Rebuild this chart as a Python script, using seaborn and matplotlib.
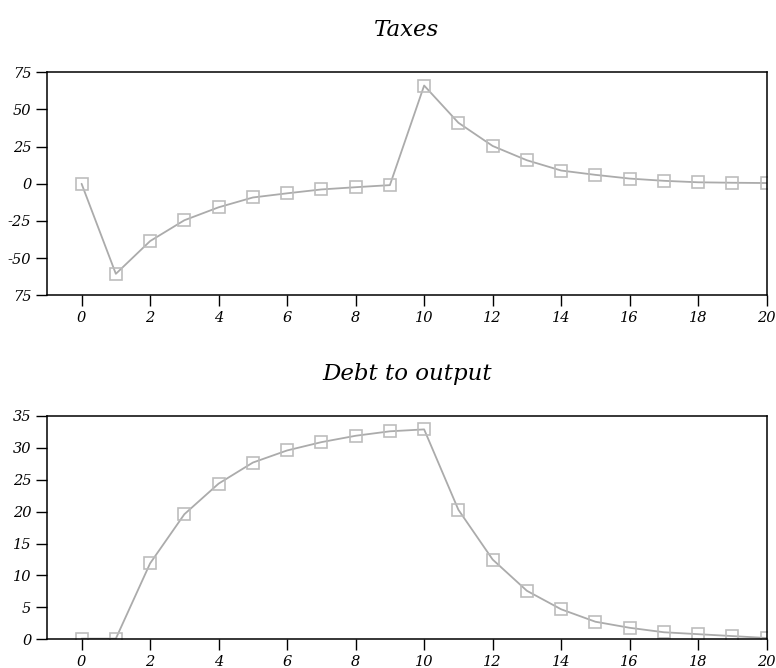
import numpy as np
import pandas as pd
import seaborn as sns
import matplotlib.pyplot as plt

# Values
periods = list(range(21))
taxes = [0.0, -60.5, -38.5, -24.5, -15.8, -9.2, -6.4, -3.8, -2.3, -0.9,
         66.0, 41.0, 25.4, 15.8, 8.9, 6.0, 3.5, 2.0, 1.0, 0.7, 0.5]
debt_to_output = [0.1, 0.1, 11.9, 19.6, 24.4, 27.7, 29.6, 30.9, 31.9, 32.6,
                  32.9, 20.3, 12.5, 7.6, 4.7, 2.75, 1.8, 1.1, 0.8, 0.5, 0.2]
tax_ticks = [75, 50, 25, 0, -25, -50, -75]
tax_tick_labels = ['75', '50', '25', '0', '-25', '-50', '75']
debt_ticks = [0, 5, 10, 15, 20, 25, 30, 35]
x_ticks = list(range(0, 21, 2))

sns.set_style('ticks')
plt.rcParams['font.family'] = ['DejaVu Serif']
plt.rcParams['font.style'] = 'italic'
plt.rcParams['text.color'] = 'black'
plt.rcParams['xtick.color'] = 'black'
plt.rcParams['ytick.color'] = 'black'

df = pd.DataFrame({'period': periods, 'taxes': taxes, 'debt': debt_to_output})

fig, axes = plt.subplots(2, 1, figsize=(7.76, 6.68), dpi=100)
fig.subplots_adjust(left=0.061, right=0.988, top=0.892, bottom=0.043, hspace=0.54)

line_kw = dict(color='#ababab', linewidth=1.3, marker='s', markersize=8,
               markerfacecolor='none', markeredgecolor='#bdbdbd', markeredgewidth=1.2)

specs = [
    ('taxes', 'Taxes', (-75, 75), tax_ticks, tax_tick_labels),
    ('debt', 'Debt to output', (0, 35), debt_ticks, [str(t) for t in debt_ticks]),
]

for ax, (col, title, ylim, yt, ytl) in zip(axes, specs):
    sns.lineplot(data=df, x='period', y=col, ax=ax, **line_kw)
    ax.set_xlim(-1, 20)
    ax.set_ylim(*ylim)
    ax.set_yticks(yt)
    ax.set_yticklabels(ytl)
    ax.set_xticks(x_ticks)
    ax.set_xticklabels([str(t) for t in x_ticks])
    for lab in ax.get_xticklabels() + ax.get_yticklabels():
        lab.set_fontstyle('italic')
        lab.set_fontsize(10.5)
    ax.set_xlabel('')
    ax.set_ylabel('')
    ax.set_title(title, fontsize=16.5, style='italic', color='black', pad=26)
    ax.tick_params(axis='both', length=8, width=1, color='black')
    for s in ax.spines.values():
        s.set_linewidth(1.1)
        s.set_color('black')

plt.savefig('out.png', dpi=100)
